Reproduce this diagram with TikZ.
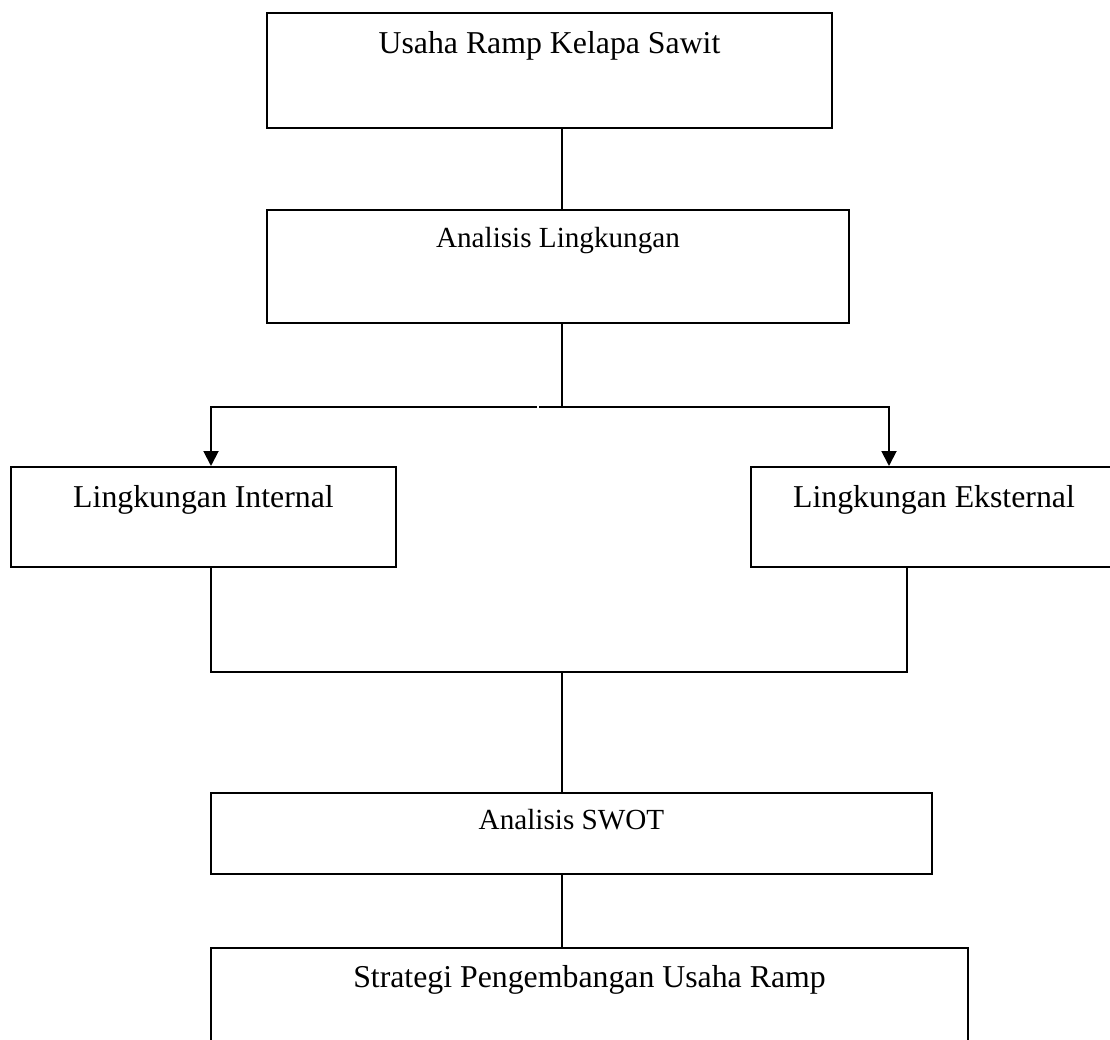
\documentclass[tikz,border=0pt]{standalone}
\usepackage{fontspec}
\setmainfont{Liberation Serif}
\usetikzlibrary{arrows.meta}
\begin{document}
\begin{tikzpicture}[x=0.02cm,y=-0.02cm]
		% Styles
		\tikzstyle{kotak}=[draw,line width=1.1pt,inner sep=0pt,anchor=north]
		\tikzstyle{besar}=[font=\fontsize{18.1}{21}\selectfont]
		\tikzstyle{kecil}=[font=\fontsize{16.6}{20}\selectfont]
		\tikzstyle{garis}=[-,line width=1.1pt]
		\tikzstyle{panah}=[->,>={Triangle[width=0.3cm,length=0.3cm]},line width=1.1pt]
		% Cadre
		\useasboundingbox (0,0) rectangle (1110,1040);
		\clip (0,0) rectangle (1110,1040);
		% Reperes des connecteurs
		\coordinate (tulang) at (562,0);
		\coordinate (kiri) at (211,0);
		\coordinate (kanan) at (889,0);
		\coordinate (kananbawah) at (907,0);
		\coordinate (cabang) at (562,407);
		\coordinate (cabangkiri) at (537,407);
		\coordinate (cabangkanan) at (539,407);
		\coordinate (gabung) at (562,672);
		% Noeuds
		\node[kotak,besar,minimum width=11.30cm,text height=0.82cm,text depth=1.48cm] (usaha) at (549.5,12) {Usaha Ramp Kelapa Sawit};
		\node[kotak,kecil,minimum width=11.64cm,text height=0.76cm,text depth=1.50cm] (analisis) at (558,209) {Analisis Lingkungan};
		\node[kotak,besar,minimum width=7.70cm,text height=0.82cm,text depth=1.18cm] (internal) at (203.5,466) {Lingkungan Internal};
		\node[kotak,besar,minimum width=7.32cm,text height=0.82cm,text depth=1.18cm] (eksternal) at (934,466) {Lingkungan Eksternal};
		\node[kotak,kecil,minimum width=14.42cm,text height=0.74cm,text depth=0.88cm] (swot) at (571.5,792) {Analisis SWOT};
		\node[kotak,besar,minimum width=15.14cm,text height=0.80cm,text depth=1.46cm] (strategi) at (589.5,947) {Strategi Pengembangan Usaha Ramp};
		% Arcs
		\draw[garis] (usaha.south -| tulang)--(analisis.north -| tulang);
		\draw[garis] (analisis.south -| tulang)--(cabang);
		\draw[panah] (cabangkiri) -| (internal.north -| kiri);
		\draw[panah] (cabangkanan) -| (eksternal.north -| kanan);
		\draw[garis] (internal.south -| kiri) |- (gabung) -| (eksternal.south -| kananbawah);
		\draw[garis] (gabung)--(swot.north -| tulang);
		\draw[garis] (swot.south -| tulang)--(strategi.north -| tulang);
	\end{tikzpicture}
\end{document}
